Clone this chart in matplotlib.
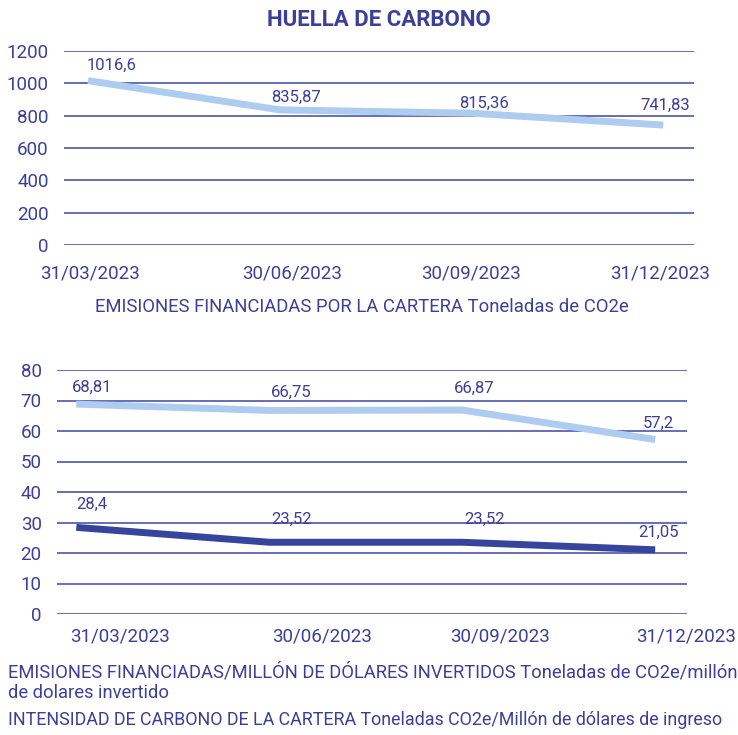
import matplotlib
matplotlib.use("Agg")
import matplotlib.pyplot as plt
import matplotlib.transforms as mtransforms

plt.rcParams['font.family'] = ['Roboto', 'DejaVu Sans']

# datos
fechas = ["31/03/2023", "30/06/2023", "30/09/2023", "31/12/2023"]
huella = [1016.6, 835.87, 815.36, 741.83]
emisiones_millon = [68.81, 66.75, 66.87, 57.2]
intensidad = [28.4, 23.52, 23.52, 21.05]

AZUL = "#3b3f98"
CLARO = "#aeccef"
OSCURO = "#36459b"
REJILLA = "#4b55aa"


def fmt(v):
    s = f"{v:.2f}".rstrip("0").rstrip(".")
    return s.replace(".", ",")


def estilo(ax, ymax, paso):
    ax.set_ylim(0, ymax)
    ax.set_yticks(range(0, ymax + 1, paso))
    ax.yaxis.grid(True, color=REJILLA, lw=1.2)
    ax.set_axisbelow(True)
    for s in ax.spines.values():
        s.set_visible(False)
    ax.tick_params(axis="both", length=0, colors=AZUL, labelsize=13.5)
    ax.tick_params(axis="y", pad=11)
    ax.set_xticks(range(len(fechas)))
    ax.set_xticklabels(fechas)


def mover_etiquetas(ax, desplaz):
    # desplaza cada etiqueta del eje x unos píxeles a la derecha
    for lab, dx in zip(ax.get_xticklabels(), desplaz):
        off = mtransforms.ScaledTranslation(dx / 100, 0, fig.dpi_scale_trans)
        lab.set_transform(lab.get_transform() + off)


def etiquetar(ax, serie, desplaz):
    for i, (v, d) in enumerate(zip(serie, desplaz)):
        ax.annotate(fmt(v), (i, v), xytext=d, textcoords="offset pixels",
                    ha="center", va="bottom", color=AZUL, fontsize=12)


fig = plt.figure(figsize=(7.38, 7.35), dpi=100)
x = range(len(fechas))

# gráfico superior: huella de carbono
ax1 = fig.add_axes([64 / 738, 1 - 245 / 735, 630 / 738, 194 / 735])
ax1.plot(x, huella, color=CLARO, lw=5, solid_capstyle="butt")
estilo(ax1, 1200, 200)
ax1.set_xlim(-0.125, 3.16)
ax1.tick_params(axis="x", pad=14)
mover_etiquetas(ax1, [2, 12, -1, -3])
etiquetar(ax1, huella, [(24, 8), (16, 5), (12, 2), (2, 12)])

fig.text(0.513, 1 - 20 / 735, "HUELLA DE CARBONO", ha="center", va="center",
         color=AZUL, fontsize=16, fontweight="bold")
fig.text(362 / 738, 1 - 307 / 735,
         "EMISIONES FINANCIADAS POR LA CARTERA Toneladas de CO2e",
         ha="center", va="center", color=AZUL, fontsize=13.3)

# gráfico inferior: emisiones por millón e intensidad
ax2 = fig.add_axes([57 / 738, 1 - 614 / 735, 630 / 738, 244 / 735])
ax2.plot(x, emisiones_millon, color=CLARO, lw=5, solid_capstyle="butt")
ax2.plot(x, intensidad, color=OSCURO, lw=5, solid_capstyle="butt")
estilo(ax2, 80, 10)
ax2.set_xlim(-0.1, 3.165)
ax2.tick_params(axis="x", pad=10)
mover_etiquetas(ax2, [44, 53, 38, 31])
etiquetar(ax2, emisiones_millon, [(16, 9), (22, 11), (12, 14), (3, 9)])
etiquetar(ax2, intensidad, [(16, 16), (22, 15), (22, 15), (3, 10)])

pie = dict(ha="left", va="center", color=AZUL)
fig.text(8 / 738, 1 - 672 / 735,
         "EMISIONES FINANCIADAS/MILLÓN DE DÓLARES INVERTIDOS Toneladas de CO2e/millón",
         fontsize=13.2, **pie)
fig.text(8 / 738, 1 - 693 / 735, "de dolares invertido", fontsize=13.2, **pie)
fig.text(8 / 738, 1 - 720 / 735,
         "INTENSIDAD DE CARBONO DE LA CARTERA Toneladas CO2e/Millón de dólares de ingreso",
         fontsize=12.9, **pie)

fig.savefig("out.png", dpi=100)
